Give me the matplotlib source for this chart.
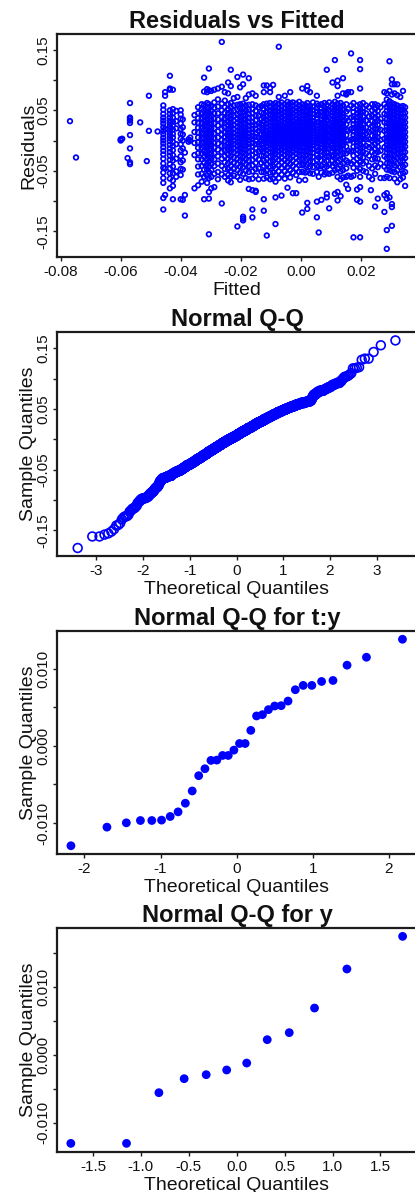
import numpy as np
import matplotlib
matplotlib.use("Agg")
import matplotlib.pyplot as plt
from matplotlib.ticker import FixedLocator, FixedFormatter
from statistics import NormalDist

plt.rcParams['font.family'] = ['Liberation Sans', 'DejaVu Sans']

# ---------------------------------------------------------------------------
# Model residuals, grouped by fitted value.  All numbers in units of 1e-3.
# fitted_levels[k] is the fitted value shared by every residual in
# residual_columns[k].
# ---------------------------------------------------------------------------
fitted_levels = [
    -76.9, -74.9, -60.0, -59.5, -57.7, -56.9, -53.5, -51.3, -50.6, -47.7,
    -45.8, -45.2, -43.6, -42.6, -41.5, -40.0, -39.3, -38.6, -37.4, -36.8,
    -35.4, -34.2, -33.0, -32.2, -31.2, -30.6, -29.8, -28.8, -27.6, -26.3,
    -25.3, -24.2, -23.3, -22.3, -21.1, -20.2, -19.2, -18.3, -17.3, -16.1,
    -15.0, -14.0, -13.1, -12.3, -11.3, -10.2, -9.2, -8.4, -7.3, -6.4,
    -5.3, -4.4, -3.5, -2.6, -1.5, -0.5, 0.5, 1.5, 2.2, 3.1,
    4.1, 5.4, 6.0, 6.9, 7.9, 8.7, 9.5, 10.6, 11.4, 12.3,
    13.3, 14.1, 15.2, 15.8, 16.8, 17.6, 18.8, 19.8, 20.8, 21.8,
    22.8, 23.4, 23.8, 24.8, 25.7, 26.6, 27.9, 28.7, 29.6, 30.4,
    31.3, 32.2, 33.2, 34.1, 34.8,
]

residual_columns = [
    [32], [-28], [2, 0], [3], [-29],
    [62, 38, 36, 33, 29, 9, -13, -36, -39],
    [30], [-34], [74, 16], [15],
    [58, 51, 44, 38, 33, 28, 22, 16, 11, 5, 0, -5, -11, -17, -23, -30, -38, -45, -53, -62, -70, -95, -114],
    [80, 74, 19, -46, -90],
    [107, 86, 84, 50, 44, 38, 33, 29, 24, 19, 14, 9, 4, -1, -7, -13, -19, -25, -32, -39, -46, -54, -63, -79],
    [84, 52, 45, 38, 31, 25, 18, 11, 5, -2, -9, -16, -24, -33, -43, -54, -66, -75, -97],
    [49, 32, 20, -6, -30, -51, -60],
    [50, 43, 36, 28, 19, 11, 3, -6, -16, -26, -36, -47, -57, -97],
    [35, 22, 10, 0, -13, -33, -48, -98],
    [-20, -90, -124],
    [2, -2],
    [0, 5],
    [42, 30, 14, -4, -24, -79],
    [55, 45, 37, 29, 21, 13, 5, -3, -12, -21, -31, -43, -56, -74],
    [60, 52, 44, 36, 28, 20, 12, 4, -4, -12, -21, -31, -42, -55, -68],
    [104, 81, 59, 50, 41, 33, 25, 18, 11, 4, -3, -10, -18, -27, -37, -48, -60, -97],
    [85, 80, 62, 55, 48, 42, 36, 30, 24, 18, 13, 8, 3, -2, -7, -12, -18, -24, -31, -39, -48, -58, -70],
    [119, 83, 60, 53, 46, 40, 34, 28, 22, 16, 11, 6, 1, -4, -9, -15, -21, -28, -35, -43, -52, -62, -85, -96, -155],
    [82, 57, 49, 41, 34, 27, 20, 13, 6, 0, -7, -14, -22, -30, -39, -49, -60, -79],
    [84, 63, 54, 45, 36, 28, 20, 12, 4, -4, -12, -21, -31, -42, -55, -77],
    [86, 68, 56, 45, 35, 25, 15, 5, -5, -15, -26, -38, -52, -64],
    [163, 89, 61, 50, 39, 29, 19, 10, 1, -9, -19, -30, -42, -56, -104],
    [80, 66, 55, 46, 37, 29, 21, 13, 6, -1, -9, -17, -26, -36, -47, -60],
    [96, 78, 60, 52, 45, 38, 31, 25, 19, 13, 7, 2, -4, -10, -16, -23, -30, -38, -47, -57, -66],
    [117, 90, 62, 55, 48, 41, 35, 29, 24, 18, 13, 8, 3, -2, -7, -13, -19, -26, -33, -41, -50, -60, -69],
    [70, 58, 49, 41, 33, 26, 19, 12, 6, 0, -6, -13, -20, -28, -37, -47, -58],
    [105, 72, 59, 51, 43, 36, 29, 22, 16, 10, 4, -2, -8, -15, -22, -30, -39, -49, -60, -142],
    [88, 60, 53, 46, 39, 33, 27, 21, 15, 9, 4, -1, -7, -13, -19, -26, -34, -43, -53, -65],
    [109, 93, 61, 54, 47, 41, 35, 29, 23, 17, 12, 7, 2, -3, -8, -14, -20, -27, -35, -44, -55, -126, -129, -132],
    [70, 58, 50, 42, 35, 28, 21, 15, 9, 3, -3, -9, -16, -23, -31, -40, -50, -62],
    [103, 76, 59, 51, 44, 37, 30, 24, 18, 12, 6, 1, -5, -11, -18, -25, -33, -42, -52, -64, -80],
    [78, 60, 52, 45, 38, 31, 25, 19, 13, 7, 2, -4, -10, -17, -24, -32, -41, -51, -63, -82, -114, -127],
    [74, 58, 49, 41, 33, 26, 19, 12, 6, 0, -6, -13, -20, -28, -37, -47, -58, -83, -85],
    [55, 41, 28, 16, 5, -6, -18, -31, -46, -64],
    [57, 46, 36, 27, 18, 10, 2, -6, -15, -25, -37, -52],
    [91, 80, 60, 52, 45, 38, 32, 26, 20, 14, 9, 4, -1, -6, -12, -18, -25, -33, -42, -52, -63, -97, -116],
    [91, 61, 54, 47, 40, 34, 28, 22, 16, 11, 6, 1, -4, -10, -16, -23, -31, -40, -50, -61, -157],
    [87, 80, 62, 55, 48, 42, 36, 30, 24, 18, 13, 8, 3, -2, -7, -13, -19, -26, -34, -43, -53, -64],
    [92, 60, 53, 47, 41, 35, 29, 23, 18, 13, 8, 3, -2, -7, -13, -19, -26, -34, -43, -53, -63],
    [62, 56, 49, 43, 37, 31, 25, 20, 15, 10, 5, 0, -5, -10, -16, -22, -29, -37, -46, -57, -68, -94, -138],
    [155, 72, 61, 54, 48, 42, 36, 30, 25, 20, 15, 10, 5, 0, -5, -11, -17, -24, -32, -41, -51, -62],
    [63, 57, 50, 44, 38, 32, 26, 21, 16, 11, 6, 1, -4, -9, -15, -21, -28, -36, -45, -56, -91],
    [74, 60, 53, 47, 41, 35, 29, 24, 19, 14, 9, 4, -1, -6, -11, -17, -24, -32, -41, -51, -63],
    [64, 58, 51, 45, 39, 33, 27, 22, 17, 12, 7, 2, -3, -8, -14, -20, -27, -35, -44, -55, -78],
    [80, 62, 55, 49, 43, 37, 31, 26, 21, 16, 11, 6, 1, -4, -9, -15, -22, -30, -39, -49, -61],
    [63, 57, 51, 45, 39, 33, 28, 23, 18, 13, 8, 3, -2, -7, -12, -18, -25, -33, -42, -53, -87],
    [61, 54, 48, 42, 36, 30, 25, 20, 15, 10, 5, 0, -5, -10, -16, -22, -29, -37, -46, -57, -87],
    [64, 58, 52, 46, 40, 34, 29, 24, 19, 14, 9, 4, -1, -6, -11, -17, -24, -32, -41, -52, -66],
    [86, 60, 54, 48, 42, 36, 30, 25, 20, 15, 10, 5, 0, -5, -11, -17, -24, -32, -41, -52, -119],
    [59, 53, 47, 41, 35, 29, 24, 19, 14, 9, 4, -1, -6, -12, -18, -25, -33, -42, -53, -65],
    [90, 83, 62, 55, 49, 43, 37, 31, 26, 21, 16, 11, 6, 1, -4, -10, -16, -23, -31, -40, -51, -103, -113],
    [80, 57, 51, 45, 39, 33, 28, 23, 18, 13, 8, 3, -2, -7, -13, -19, -26, -34, -43, -54],
    [63, 56, 50, 44, 38, 32, 27, 22, 17, 12, 7, 2, -3, -8, -14, -20, -27, -35, -44, -55],
    [74, 61, 54, 48, 42, 36, 30, 25, 20, 15, 10, 5, 0, -5, -11, -17, -24, -32, -41, -52, -101, -127],
    [58, 44, 31, 19, 8, -3, -15, -28, -43, -60, -152],
    [60, 53, 47, 41, 35, 29, 24, 19, 14, 9, 4, -1, -6, -12, -18, -25, -33, -42, -53, -98],
    [62, 55, 49, 43, 37, 31, 26, 21, 16, 11, 6, 1, -4, -9, -15, -21, -28, -36, -45, -56],
    [117, 59, 52, 46, 40, 34, 28, 23, 18, 13, 8, 3, -2, -7, -13, -19, -26, -34, -43, -54, -88, -94],
    [63, 50, 38, 27, 17, 7, -3, -14, -26, -40, -55, -112],
    [96, 60, 53, 47, 41, 35, 29, 24, 19, 14, 9, 4, -1, -6, -12, -18, -25, -33, -42, -53],
    [133, 64, 57, 51, 45, 39, 33, 28, 23, 18, 13, 8, 3, -2, -8, -14, -21, -29, -38, -49, -88],
    [99, 90, 74, 61, 54, 48, 42, 36, 30, 25, 20, 15, 10, 5, 0, -6, -12, -19, -27, -36, -47, -60, -85, -99],
    [62, 55, 49, 43, 37, 31, 26, 21, 16, 11, 6, 1, -4, -10, -16, -23, -31, -40, -51, -64, -92],
    [103, 78, 58, 51, 45, 39, 33, 28, 23, 18, 13, 8, 3, -2, -8, -14, -21, -29, -38, -49, -61],
    [78, 76, 60, 48, 37, 27, 18, 9, 0, -10, -21, -33, -46, -60, -73],
    [80, 52, 33, 16, 0, -17, -36, -58, -80],
    [144, 80, 58, 38, 19, 1, -18, -38, -60],
    [62, 54, 47, 40, 33, 27, 21, 15, 9, 3, -3, -10, -17, -25, -34, -45, -58, -160],
    [58, 51, 45, 39, 33, 27, 22, 17, 12, 7, 2, -3, -9, -15, -22, -30, -39, -50, -81, -98],
    [133, 118, 86, 60, 53, 47, 41, 35, 30, 25, 20, 15, 10, 5, 0, -6, -12, -19, -27, -36, -47, -60, -77, -101, -160],
    [62, 54, 47, 40, 33, 27, 21, 15, 9, 3, -4, -11, -19, -28, -38, -50],
    [58, 45, 33, 22, 12, 2, -9, -21, -35, -52],
    [55, 40, 27, 14, 2, -11, -25, -42, -60],
    [-82],
    [60, 50, 41, 32, 24, 16, 8, 0, -9, -19, -31, -46, -64],
    [60, 52, 45, 38, 31, 25, 19, 13, 7, 1, -6, -13, -21, -30, -41, -55, -109],
    [58, 49, 41, 33, 26, 19, 12, 5, -2, -10, -19, -30, -44, -96],
    [55, 36, 18, 1, -17, -38, -62],
    [80, 60, 44, 30, 16, 3, -11, -26, -43, -62, -90, -118],
    [78, 68, 56, 49, 42, 35, 29, 23, 17, 11, 5, -1, -7, -14, -21, -29, -38, -48, -60, -87, -96, -148, -179],
    [131, 82, 65, 58, 52, 46, 40, 34, 28, 23, 18, 13, 8, 3, -2, -8, -14, -21, -29, -38, -49, -62, -94],
    [101, 93, 76, 62, 55, 49, 43, 37, 31, 26, 21, 16, 11, 6, 1, -4, -10, -16, -23, -31, -40, -51, -105, -110, -141],
    [93, 78, 60, 54, 48, 42, 36, 30, 25, 20, 15, 10, 5, 0, -5, -11, -17, -24, -32, -41, -52, -63],
    [75, 93, 58, 52, 46, 40, 34, 28, 23, 18, 13, 8, 3, -2, -8, -14, -21, -29, -38, -49, -69],
    [72, 56, 50, 44, 38, 32, 27, 22, 17, 12, 7, 2, -3, -8, -14, -20, -27, -35, -44, -55, -64],
    [82, 57, 51, 45, 39, 33, 28, 23, 18, 13, 8, 3, -2, -7, -13, -19, -26, -34, -43, -54, -61],
    [55, 46, 38, 30, 22, 14, 6, -2, -10, -19, -29, -40, -52, -75],
]

# Random-effect estimates for the t:y and y terms
ranef_ty = [
    -0.01295, -0.01054, -0.00998, -0.00968, -0.00968, -0.00963, -0.00916,
    -0.00856, -0.00744, -0.00585, -0.00387, -0.00297, -0.00189, -0.00185,
    -0.00125, -0.00125, -0.00056, 0.00030, 0.00030, 0.00200, 0.00387,
    0.00404, 0.00469, 0.00516, 0.00520, 0.00580, 0.00727, 0.00783,
    0.00783, 0.00834, 0.00847, 0.01045, 0.01148, 0.01381,
]
ranef_y = [
    -0.01304, -0.01304, -0.00559, -0.00353, -0.00294, -0.00225,
    -0.00123, 0.00221, 0.00324, 0.00686, 0.01260, 0.01740,
]

fitted = np.repeat(np.array(fitted_levels) * 1e-3,
                   [len(c) for c in residual_columns])
residuals = np.concatenate([np.array(c, dtype=float) for c in residual_columns]) * 1e-3


def ppoints(n):
    a = 3 / 8 if n <= 10 else 0.5
    return [(i + 1 - a) / (n + 1 - 2 * a) for i in range(n)]


def qq(values):
    sample = np.sort(np.asarray(values, dtype=float))
    nd = NormalDist()
    theo = np.array([nd.inv_cdf(p) for p in ppoints(len(sample))])
    return theo, sample


W, H = 415, 1192
fig = plt.figure(figsize=(W / 100, H / 100), dpi=100)
fig.patch.set_facecolor('white')

LEFT, RIGHT = 57, 417
BLUE = '#0000FF'
INK = '#1c1c1c'


def add_panel(top, bottom):
    ax = fig.add_axes([LEFT / W, 1 - bottom / H, (RIGHT - LEFT) / W, (bottom - top) / H])
    ax.hpx = bottom - top
    return ax


def style(ax, title, xlabel, ylabel, xticks, xlabels, yticks, ylabels):
    wpx, hpx = RIGHT - LEFT, ax.hpx
    for s in ax.spines.values():
        s.set_linewidth(1.6)
        s.set_color(INK)
    ax.xaxis.set_major_locator(FixedLocator(xticks))
    ax.xaxis.set_major_formatter(FixedFormatter(xlabels))
    ax.yaxis.set_major_locator(FixedLocator(yticks))
    ax.yaxis.set_major_formatter(FixedFormatter(ylabels))
    ax.tick_params(direction='out', length=3, width=1.0, color=INK,
                   labelsize=11, labelcolor='#111111')
    ax.tick_params(axis='x', pad=3)
    ax.tick_params(axis='y', pad=1.5, labelrotation=90)
    for t in ax.get_yticklabels():
        t.set_va('center')
    ax.text(0.5, 1 + 6 / hpx, title, transform=ax.transAxes, ha='center',
            va='baseline', fontsize=17, fontweight='bold', color='#111111')
    ax.text(0.5, -38 / hpx, xlabel, transform=ax.transAxes, ha='center',
            va='baseline', fontsize=14, color='#111111')
    ax.text(-24 / wpx, 0.5, ylabel, transform=ax.transAxes, ha='center',
            va='baseline', rotation=90, rotation_mode='anchor', fontsize=14,
            color='#111111')


res_ticks = [-0.15, -0.10, -0.05, 0.0, 0.05, 0.10, 0.15]
res_labels = ['-0.15', '', '-0.05', '', '0.05', '', '0.15']

# Residuals vs Fitted
ax1 = add_panel(34, 257)
ax1.scatter(fitted, residuals, s=11, facecolors='none', edgecolors=BLUE, linewidths=1.25)
ax1.set_xlim(-0.08123, 0.03877)
ax1.set_ylim(-0.1925, 0.1761)
style(ax1, 'Residuals vs Fitted', 'Fitted', 'Residuals',
      [-0.08, -0.06, -0.04, -0.02, 0.0, 0.02],
      ['-0.08', '-0.06', '-0.04', '-0.02', '0.00', '0.02'],
      res_ticks, res_labels)

# Normal Q-Q of the residuals
ax2 = add_panel(332, 556)
tq, sq = qq(residuals)
ax2.scatter(tq, sq, s=40, facecolors='none', edgecolors=BLUE, linewidths=1.2)
ax2.set_xlim(-3.845, 3.864)
ax2.set_ylim(-0.1922, 0.1769)
style(ax2, 'Normal Q-Q', 'Theoretical Quantiles', 'Sample Quantiles',
      [-3, -2, -1, 0, 1, 2, 3], ['-3', '-2', '-1', '0', '1', '2', '3'],
      res_ticks, res_labels)

# Normal Q-Q for the t:y random effects
ax3 = add_panel(631, 854)
tq, sq = qq(ranef_ty)
ax3.scatter(tq, sq, s=40, color=BLUE, edgecolors='none')
ax3.set_xlim(-2.361, 2.369)
ax3.set_ylim(-0.01402, 0.01488)
style(ax3, 'Normal Q-Q for t:y', 'Theoretical Quantiles', 'Sample Quantiles',
      [-2, -1, 0, 1, 2], ['-2', '-1', '0', '1', '2'],
      [-0.010, -0.005, 0.0, 0.005, 0.010], ['-0.010', '', '0.000', '', '0.010'])

# Normal Q-Q for the y random effects
ax4 = add_panel(928, 1152)
tq, sq = qq(ranef_y)
ax4.scatter(tq, sq, s=40, color=BLUE, edgecolors='none')
ax4.set_xlim(-1.876, 1.882)
ax4.set_ylim(-0.01431, 0.01863)
style(ax4, 'Normal Q-Q for y', 'Theoretical Quantiles', 'Sample Quantiles',
      [-1.5, -1.0, -0.5, 0.0, 0.5, 1.0, 1.5],
      ['-1.5', '-1.0', '-0.5', '0.0', '0.5', '1.0', '1.5'],
      [-0.010, -0.005, 0.0, 0.005, 0.010, 0.015],
      ['-0.010', '', '0.000', '', '0.010', ''])

fig.savefig('out.png', dpi=100, facecolor='white')
